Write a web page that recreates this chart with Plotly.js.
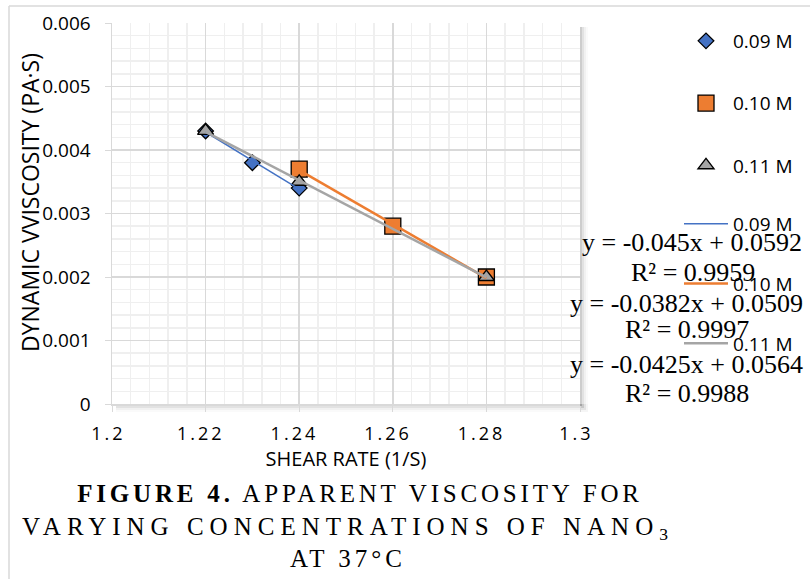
<!DOCTYPE html>
<html>
<head>
<meta charset="utf-8">
<script src="https://cdn.plot.ly/plotly-3.0.1.min.js"></script>
<style>
html,body{margin:0;padding:0;background:#fff;}
#chart{width:810px;height:579px;}
</style>
</head>
<body>
<div id="chart"></div>
<script>
// ---- data ----
const seriesNames = ["0.09 M", "0.10 M", "0.11 M"];
const x09 = [1.22, 1.23, 1.24];
const y09 = [0.0043, 0.0038, 0.0034];
const x10 = [1.24, 1.26, 1.28];
const y10 = [0.0037, 0.0028, 0.0020];
const x11 = [1.22, 1.24, 1.28];
const y11 = [0.0043, 0.0035, 0.0020];
const eqLabels = ["y = -0.045x + 0.0592", "y = -0.0382x + 0.0509", "y = -0.0425x + 0.0564"];
const r2Labels = ["R² = 0.9959", "R² = 0.9997", "R² = 0.9988"];
const xTickVals = [1.2, 1.22, 1.24, 1.26, 1.28, 1.3];
const yTickVals = [0, 0.001, 0.002, 0.003, 0.004, 0.005, 0.006];
const xTitle = "SHEAR RATE (1/S)";
const yTitle = "DYNAMIC VVISCOSITY (PA·S)";
const captionLines = ["<b>FIGURE 4.</b> APPARENT VISCOSITY FOR", "VARYING CONCENTRATIONS OF NANO<sub>3</sub>", "AT 37°C"];

// ---- style ----
const colors = ["#4472C4", "#ED7D31", "#A5A5A5"];
const symbols = ["diamond", "square", "triangle-up"];
const msizes = [12, 16, 14];
const lwidths = [1.5, 2.5, 2.5];

const W = 810, H = 579;
const M = {l: 112, r: 230, t: 23, b: 175};
const PW = W - M.l - M.r, PH = H - M.t - M.b;
const px = v => (v - M.l) / PW;
const py = v => (H - M.b - v) / PH;

function fit(xs, ys) {
  const n = xs.length;
  const mx = xs.reduce((a, b) => a + b, 0) / n;
  const my = ys.reduce((a, b) => a + b, 0) / n;
  let sxy = 0, sxx = 0;
  for (let i = 0; i < n; i++) { sxy += (xs[i] - mx) * (ys[i] - my); sxx += (xs[i] - mx) ** 2; }
  const m = sxy / sxx, c = my - m * mx;
  const x0 = Math.min(...xs), x1 = Math.max(...xs);
  return {x: [x0, x1], y: [m * x0 + c, m * x1 + c]};
}

const xs = [x09, x10, x11], ys = [y09, y10, y11];
const traces = [];
for (let i = 0; i < 3; i++) {
  traces.push({
    type: "scatter", mode: "markers", x: xs[i], y: ys[i], name: seriesNames[i],
    legend: "legend", legendgroup: "m" + i,
    marker: {symbol: symbols[i], size: msizes[i], color: colors[i], line: {color: "#000", width: 1.3}}
  });
}
for (let i = 0; i < 3; i++) {
  const f = fit(xs[i], ys[i]);
  traces.push({
    type: "scatter", mode: "lines", x: f.x, y: f.y, name: seriesNames[i],
    legend: "legend2", legendgroup: "l" + i,
    line: {color: colors[i], width: lwidths[i]}
  });
}

const eqPos = [[692, 243], [686, 303], [686, 364]];
const r2Pos = [[693, 272], [687, 329], [687, 393]];
const annotations = [];
for (let i = 0; i < 3; i++) {
  annotations.push({xref: "paper", yref: "paper", x: px(eqPos[i][0]), y: py(eqPos[i][1]),
    xanchor: "center", yanchor: "middle", showarrow: false, text: eqLabels[i],
    font: {family: "Liberation Serif", size: 26, color: "#000"}});
  annotations.push({xref: "paper", yref: "paper", x: px(r2Pos[i][0]), y: py(r2Pos[i][1]),
    xanchor: "center", yanchor: "middle", showarrow: false, text: r2Labels[i],
    font: {family: "Liberation Serif", size: 26, color: "#000"}});
}
// y axis title
annotations.push({xref: "paper", yref: "paper", x: px(30), y: py(203), xanchor: "center", yanchor: "middle",
  showarrow: false, textangle: -90, text: yTitle,
  font: {family: "Open Sans", size: 23, color: "#000"}});
// caption
annotations.push({xref: "paper", yref: "paper", x: px(348), y: py(526),
  xanchor: "center", yanchor: "middle", showarrow: false, align: "center",
  text: captionLines.join("<br>"),
  font: {family: "Liberation Serif", size: 25, color: "#000"}});

// plot-area shadow (bottom/right strips) and outer frame
const shapes = [];
const sh = [[2, 0.09], [4, 0.06], [6, 0.035], [8, 0.02]];
sh.forEach(([o, a]) => {
  shapes.push({type: "rect", xref: "paper", yref: "paper", layer: "below",
    x0: px(M.l + 4), x1: px(W - M.r + o), y0: py(H - M.b), y1: py(H - M.b + o),
    line: {width: 0}, fillcolor: "rgba(0,0,0," + a + ")"});
  shapes.push({type: "rect", xref: "paper", yref: "paper", layer: "below",
    x0: px(W - M.r), x1: px(W - M.r + o), y0: py(H - M.b + o), y1: py(M.t + 4),
    line: {width: 0}, fillcolor: "rgba(0,0,0," + a + ")"});
});
shapes.push({type: "line", xref: "paper", yref: "paper", x0: px(9), x1: px(810), y0: py(6), y1: py(6),
  line: {color: "#d9d9d9", width: 1.5}});
shapes.push({type: "line", xref: "paper", yref: "paper", x0: px(9), x1: px(9), y0: py(6), y1: py(579),
  line: {color: "#d9d9d9", width: 1.5}});

const legendBase = {xref: "container", yref: "container", x: 679 / W, xanchor: "left", yanchor: "top",
  traceorder: "grouped", itemwidth: 44,
  font: {family: "Open Sans", size: 19, color: "#000"}, bgcolor: "rgba(0,0,0,0)"};

const layout = {
  width: W, height: H, margin: M,
  paper_bgcolor: "#fff", plot_bgcolor: "#fff",
  font: {family: "Open Sans", color: "#000"},
  showlegend: true,
  legend: Object.assign({}, legendBase, {y: 1 - 22 / H, tracegroupgap: 34.5}),
  legend2: Object.assign({}, legendBase, {y: 1 - 205 / H, tracegroupgap: 32}),
  xaxis: {range: [1.2, 1.3], tickvals: xTickVals, ticks: "outside", ticklen: 6, tickcolor: "#d9d9d9",
    showline: true, linecolor: "#d9d9d9", linewidth: 1.5, gridcolor: "#d9d9d9", gridwidth: 1.5,
    zeroline: false, ticklabelstandoff: 7,
    tickfont: {family: "Open Sans", size: 18, color: "#000"},
    minor: {dtick: 0.004, showgrid: true, gridcolor: "#efefef", gridwidth: 1.5, ticks: ""},
    title: {text: xTitle, font: {family: "Open Sans", size: 20, color: "#000"}, standoff: 8}},
  yaxis: {range: [0, 0.006], tickvals: yTickVals, ticks: "outside", ticklen: 6, tickcolor: "#d9d9d9",
    showline: true, linecolor: "#d9d9d9", linewidth: 1.5, gridcolor: "#d9d9d9", gridwidth: 1.5,
    zeroline: false, ticklabelstandoff: 10,
    tickfont: {family: "Open Sans", size: 19, color: "#000"},
    minor: {dtick: 0.0002, showgrid: true, gridcolor: "#efefef", gridwidth: 1.5, ticks: ""}},
  annotations: annotations, shapes: shapes
};

Plotly.newPlot("chart", traces, layout, {staticPlot: true}).then(gd => {
  gd.querySelectorAll(".xtick text").forEach(t => {
    t.style.letterSpacing = "3px";
    t.setAttribute("dx", -(t.textContent.length) * 1.2);
  });
  gd.querySelectorAll(".annotation-text").forEach(t => {
    if (t.textContent.indexOf("FIGURE") === 0) {
      const lines = t.querySelectorAll("tspan.line");
      const sp = ["3.8px", "6px", "4px"];
      const dx = [12, 0, 0];
      if (lines.length) lines.forEach((l, k) => {
        l.style.letterSpacing = sp[k] || "5px";
        if (dx[k]) l.setAttribute("dx", dx[k]);
      });
      else t.style.letterSpacing = "5px";
    }
  });
});
</script>
</body>
</html>
